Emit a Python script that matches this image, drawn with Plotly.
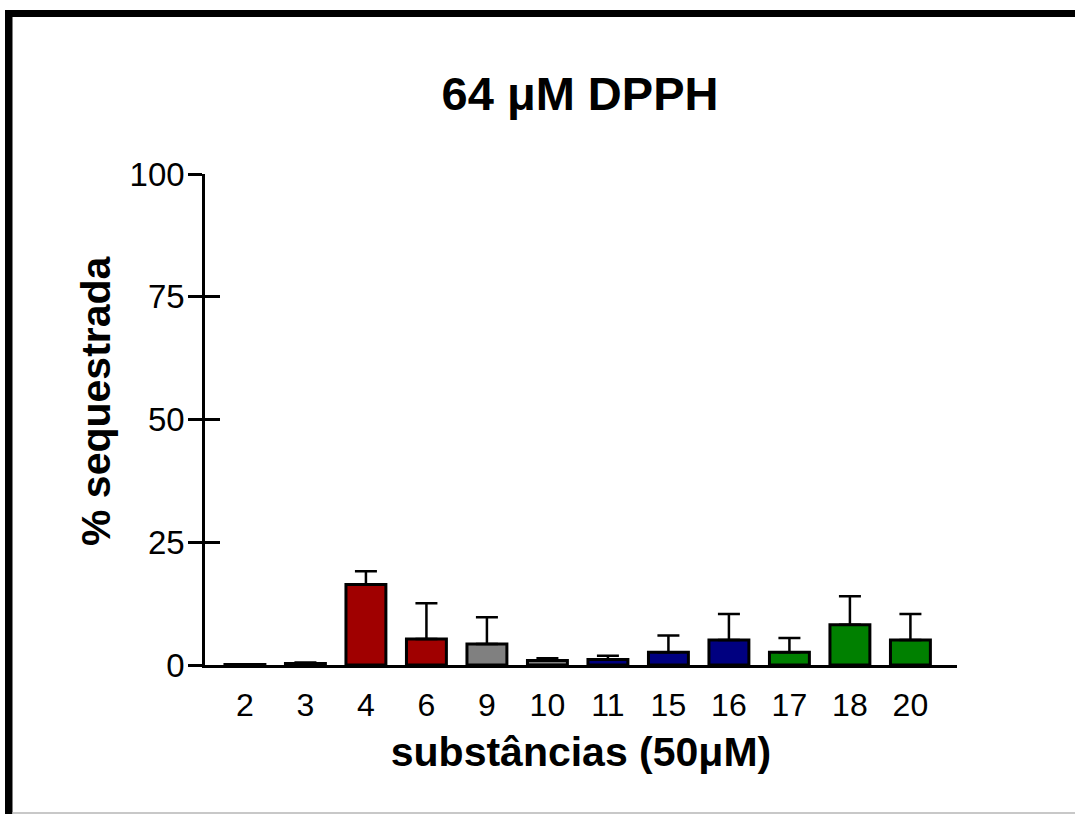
import plotly.graph_objects as go

categories = ["2", "3", "4", "6", "9", "10", "11", "15", "16", "17", "18", "20"]
values = [0.1, 0.3, 16.4, 5.3, 4.3, 0.9, 1.1, 2.6, 5.1, 2.6, 8.2, 5.1]
errors = [0.0, 0.2, 2.7, 7.3, 5.4, 0.5, 0.8, 3.4, 5.3, 2.9, 5.8, 5.3]
colors = ["#A00000", "#A00000", "#A00000", "#A00000", "#808080", "#808080",
          "#000080", "#000080", "#000080", "#008000", "#008000", "#008000"]
y_ticks = [0, 25, 50, 75, 100]

W, H = 1075, 814
ML, MR, MT, MB = 205, 118, 174, 149
PW, PH = W - ML - MR, H - MT - MB

def px(x):
    return (x - ML) / PW

def py(y):
    return (H - MB - y) / PH

FONT = "Arial, 'Liberation Sans', Helvetica, sans-serif"

fig = go.Figure()
fig.add_trace(go.Bar(
    x=categories, y=values,
    marker=dict(color=colors, line=dict(color="black", width=3)),
    width=0.66,
    error_y=dict(type="data", array=errors, arrayminus=[0] * len(errors),
                 symmetric=False, color="black", thickness=2.5, width=11),
    showlegend=False,
))
# invisible trace on overlay axis to draw the inner half of y ticks
fig.add_trace(go.Scatter(x=[categories[0]], y=[0], yaxis="y2", mode="markers",
                         marker=dict(opacity=0), showlegend=False, hoverinfo="skip"))

fig.update_layout(
    width=W, height=H,
    margin=dict(l=ML, r=MR, t=MT, b=MB, autoexpand=False),
    paper_bgcolor="white", plot_bgcolor="white",
    font=dict(family=FONT, color="black"),
    title=dict(text="<b>64 μM DPPH</b>", x=580 / W, xref="container", xanchor="center",
               y=1 - 94 / H, yref="container", yanchor="middle",
               font=dict(size=47, family=FONT, color="black")),
    xaxis=dict(
        type="category", range=[-0.66, 11.77],
        showline=True, linecolor="black", linewidth=2.5,
        ticks="", showgrid=False, zeroline=False,
        tickfont=dict(size=32, family=FONT, color="black"),
        ticklabelstandoff=10,
        title=dict(text="<b>substâncias (50μM)</b>", standoff=16,
                   font=dict(size=41, family=FONT, color="black")),
    ),
    yaxis=dict(
        range=[0, 100], tickvals=y_ticks, ticktext=[str(v) for v in y_ticks],
        showline=True, linecolor="black", linewidth=2.5,
        ticks="outside", ticklen=14, tickwidth=2.5, tickcolor="black",
        showgrid=False, zeroline=False,
        tickfont=dict(size=33, family=FONT, color="black"),
        ticklabelstandoff=-3,
    ),
    yaxis2=dict(
        overlaying="y", side="left", range=[0, 100], tickvals=y_ticks,
        showticklabels=False, ticks="inside", ticklen=15, tickwidth=2.5,
        tickcolor="black", showgrid=False, zeroline=False, showline=False,
    ),
    annotations=[
        dict(text="<b>% sequestrada</b>", xref="paper", yref="paper",
             x=px(96), y=py(401), xanchor="center", yanchor="middle",
             textangle=-90, showarrow=False,
             font=dict(size=41, family=FONT, color="black")),
    ],
    shapes=[
        dict(type="rect", xref="paper", yref="paper", x0=px(5), x1=px(1076),
             y0=py(17), y1=py(10), fillcolor="black", line=dict(width=0), layer="above"),
        dict(type="rect", xref="paper", yref="paper", x0=px(5), x1=px(12.5),
             y0=py(815), y1=py(10), fillcolor="black", line=dict(width=0), layer="above"),
        dict(type="rect", xref="paper", yref="paper", x0=px(12.5), x1=px(1076),
             y0=py(814), y1=py(812), fillcolor="#C8C8C8", line=dict(width=0), layer="above"),
    ],
    bargap=0.34,
)

fig.write_html("out.html", config={"displayModeBar": False},
               post_script="document.body.style.margin='0px';document.body.style.overflow='hidden';")
